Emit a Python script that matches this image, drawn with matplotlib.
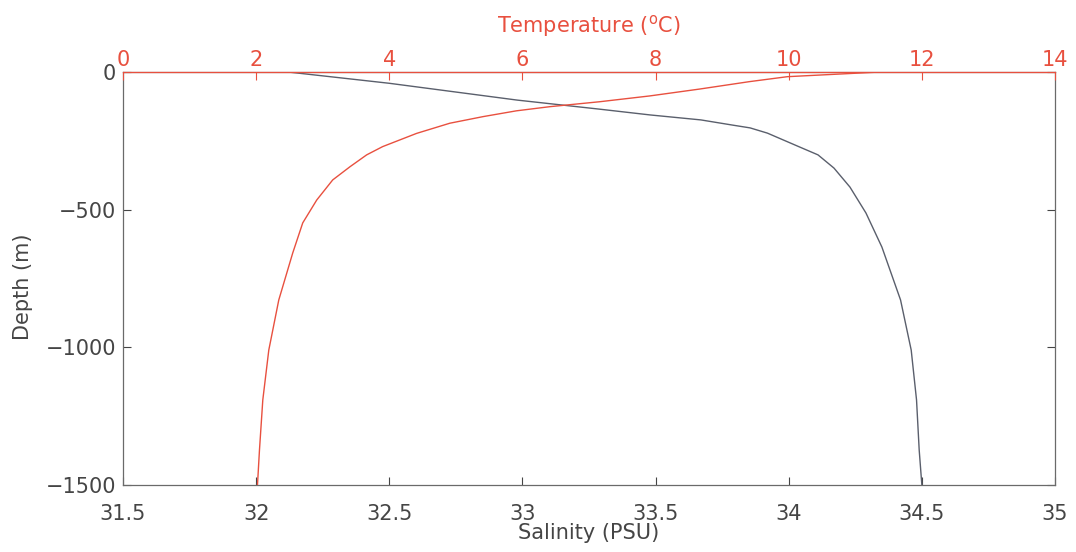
import matplotlib.pyplot as plt
import numpy as np

plt.rcParams['font.family'] = ['DejaVu Sans']
plt.rcParams['mathtext.fontset'] = 'dejavusans'

##############################
# data
##############################

# salinity profile (PSU) vs depth (m)
sal_depth = [0, -41, -102, -135, -156, -174, -193, -203, -222, -247, -272,
             -301, -349, -418, -512, -636, -828, -1010, -1191, -1373, -1500]
salinity = [32.12, 32.50, 32.98, 33.29, 33.48, 33.67, 33.79, 33.855, 33.92,
            33.98, 34.04, 34.11, 34.17, 34.23, 34.29, 34.35, 34.42, 34.46,
            34.48, 34.49, 34.50]

# temperature profile (deg C) vs depth (m)
temp_depth = [0, -17, -35, -62, -87, -108, -126, -141, -162, -186, -223,
              -271, -301, -344, -392, -465, -548, -657, -828, -1010, -1191,
              -1373, -1500]
temperature = [11.37, 9.98, 9.41, 8.66, 7.91, 7.16, 6.41, 5.91, 5.41, 4.91,
               4.41, 3.90, 3.66, 3.41, 3.15, 2.91, 2.70, 2.55, 2.34, 2.19,
               2.10, 2.05, 2.02]

sal_ticks = [31.5, 32, 32.5, 33, 33.5, 34, 34.5, 35]
temp_ticks = [0, 2, 4, 6, 8, 10, 12, 14]
depth_ticks = [-1500, -1000, -500, 0]

RED = '#e8503f'
GREY = '#5a5f6c'
TXT = '#454545'
FS = 15

##############################
# plot
##############################

fig = plt.figure(figsize=(10.76, 5.52), dpi=100)
ax = fig.add_axes([123 / 1076, 67 / 552, 932 / 1076, 413 / 552])
ax.plot(salinity, sal_depth, color=GREY, lw=1.0)
ax.set_xlim(31.5, 35)
ax.set_ylim(-1500, 0)
ax.set_xticks(sal_ticks)
ax.set_xticklabels(['31.5', '32', '32.5', '33', '33.5', '34', '34.5', '35'])
ax.set_yticks(depth_ticks)
ax.tick_params(direction='in', length=6, width=0.8, colors=TXT,
               labelsize=FS, right=True, pad=5)
ax.tick_params(axis='x', pad=13.5)
for s in ax.spines.values():
    s.set_color('#6a6a6a')
    s.set_linewidth(0.9)
ax.set_xlabel('Salinity (PSU)', fontsize=FS, color=TXT)
ax.set_ylabel('Depth (m)', fontsize=FS, color=TXT)
ax.xaxis.set_label_coords(0.5, -0.091)
ax.yaxis.set_label_coords(-0.0965, 0.48)

ax2 = ax.twiny()
ax2.plot(temperature, temp_depth, color=RED, lw=1.0)
ax2.set_xlim(0, 14)
ax2.set_xticks(temp_ticks)
ax2.tick_params(direction='in', length=6, width=0.8, colors=RED,
                labelsize=FS, pad=1.5)
ax2.spines['top'].set_color(RED)
ax2.spines['top'].set_linewidth(0.9)
for k in ['left', 'right', 'bottom']:
    ax2.spines[k].set_visible(False)
ax2.set_xlabel(r'Temperature ($^{\rm o}$C)', fontsize=FS, color=RED)
ax2.xaxis.set_label_coords(0.5, 1.0969)

fig.savefig('out.png', dpi=100, facecolor='white')
